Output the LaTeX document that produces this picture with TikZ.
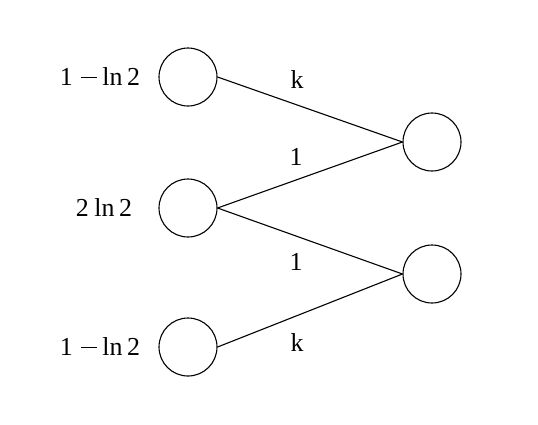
\documentclass[tikz,border=0pt]{standalone}
\usepackage{fontspec}
\setmainfont{Liberation Serif}
\newcommand{\mminus}{\hspace{0.32em}\rule[0.3em]{0.62em}{0.055em}\hspace{0.2em}}
\begin{document}
\begin{tikzpicture}[x=1bp,y=-1bp,
  neuron/.style={circle,draw,line width=1.1bp,minimum size=58bp,inner sep=0pt},
  lbl/.style={font=\fontsize{26}{30}\selectfont,inner sep=0pt},
  conn/.style={line width=1.1bp}]
\useasboundingbox (0,0) rectangle (538,424);
\node[neuron] (a1) at (188,77) {};
\node[neuron] (a2) at (188,208) {};
\node[neuron] (a3) at (188,347) {};
\node[neuron] (b1) at (432,142) {};
\node[neuron] (b2) at (432,274) {};
\node[lbl] (l1) at (100,77) {1\mminus ln\hspace{0.18em}2};
\node[lbl] (l2) at (104,208) {2\hspace{0.22em}ln\hspace{0.18em}2};
\node[lbl] (l3) at (100,347) {1\mminus ln\hspace{0.18em}2};
\draw[conn] (a1.east) -- (b1.west);
\draw[conn] (a2.east) -- (b1.west);
\draw[conn] (a2.east) -- (b2.west);
\draw[conn] (a3.east) -- (b2.west);
\node[lbl] (e1) at (297,80) {k};
\node[lbl] (e2) at (296,157) {1};
\node[lbl] (e3) at (296,262) {1};
\node[lbl] (e4) at (297,343) {k};
\end{tikzpicture}
\end{document}
